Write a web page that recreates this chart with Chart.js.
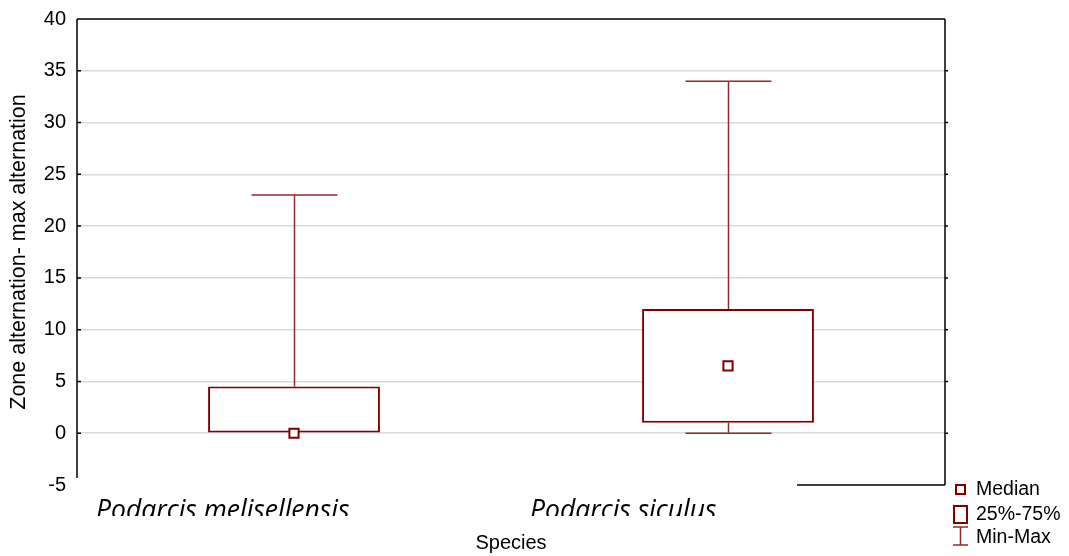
<!DOCTYPE html>
<html>
<head>
<meta charset="utf-8">
<script src="https://cdn.jsdelivr.net/npm/chart.js@4.4.1/dist/chart.umd.min.js"></script>
<style>
    html, body { margin: 0; padding: 0; background: #fff; }
    #grafica { display: block; }
</style>
</head>
<body>
<canvas id="grafica" width="1069" height="556"></canvas>
<script>
const species = ['Podarcis melisellensis', 'Podarcis siculus'];
const minValues = [0, 0];
const q25Values = [0, 1];
const medianValues = [0, 6.5];
const q75Values = [4.5, 12];
const maxValues = [23, 34];
const yTicks = [-5, 0, 5, 10, 15, 20, 25, 30, 35, 40];
const legendLabels = ['Median', '25%-75%', 'Min-Max'];

(function(){
    const red = '#800000';
    const whiskerRed = '#962a2a';
    const font = 'Arial, "Liberation Sans", sans-serif';

    // bigotes (min-max) debajo de las cajas
    const whiskers = {
        id: 'whiskers',
        beforeDatasetsDraw(chart) {
            const {ctx, scales: {x, y}} = chart;
            const boxes = chart.getDatasetMeta(1).data;
            ctx.save();
            ctx.strokeStyle = whiskerRed;
            ctx.lineWidth = 1.5;
            species.forEach((s, i) => {
                const cx = Math.round(x.getPixelForValue(i)) + 0.5;
                const half = boxes[i].width / 4;
                const yMax = y.getPixelForValue(maxValues[i]);
                const yMin = y.getPixelForValue(minValues[i]);
                ctx.beginPath();
                if (maxValues[i] > q75Values[i]) {
                    ctx.moveTo(cx, yMax); ctx.lineTo(cx, y.getPixelForValue(q75Values[i]));
                    ctx.moveTo(cx - half, yMax); ctx.lineTo(cx + half, yMax);
                }
                if (minValues[i] < q25Values[i]) {
                    ctx.moveTo(cx, yMin); ctx.lineTo(cx, y.getPixelForValue(q25Values[i]));
                    ctx.moveTo(cx - half, yMin); ctx.lineTo(cx + half, yMin);
                }
                ctx.stroke();
            });
            ctx.restore();
        }
    };

    // marco, etiquetas de especie, titulo X y leyenda
    const frame = {
        id: 'frame',
        afterDraw(chart) {
            const {ctx, chartArea: a, scales: {x, y}} = chart;
            ctx.save();
            ctx.strokeStyle = '#000';
            ctx.lineWidth = 1.5;
            ctx.beginPath();
            ctx.moveTo(a.left, a.top); ctx.lineTo(a.right, a.top);
            ctx.moveTo(a.left, a.top); ctx.lineTo(a.left, a.bottom - 7);
            ctx.moveTo(a.right, a.top); ctx.lineTo(a.right, a.bottom);
            ctx.moveTo(a.right - 148, a.bottom); ctx.lineTo(a.right, a.bottom);
            yTicks.forEach(v => {
                const py = y.getPixelForValue(v);
                if (v > yTicks[0] && v < yTicks[yTicks.length - 1]) {
                    ctx.moveTo(a.left, py); ctx.lineTo(a.left + 4, py);
                    ctx.moveTo(a.right, py); ctx.lineTo(a.right + 3, py);
                }
            });
            ctx.stroke();

            // nombres de especie, cortados abajo como en el original
            ctx.save();
            ctx.beginPath();
            ctx.rect(0, 0, chart.width, a.bottom + 31);
            ctx.clip();
            ctx.fillStyle = '#000';
            ctx.font = 'italic 26.5px "Open Sans", sans-serif';
            ctx.textAlign = 'left';
            ctx.textBaseline = 'alphabetic';
            species.forEach((s, i) => {
                ctx.fillText(s, x.getPixelForValue(i) - 198, a.bottom + 34);
            });
            ctx.restore();

            ctx.fillStyle = '#000';
            ctx.font = '20px ' + font;
            ctx.textAlign = 'center';
            ctx.textBaseline = 'middle';
            ctx.fillText('Species', (a.left + a.right) / 2, a.bottom + 58);

            // leyenda
            const lx = a.right + 15;
            ctx.strokeStyle = red;
            ctx.lineWidth = 2;
            ctx.strokeRect(lx - 4, a.bottom, 9, 9);
            ctx.strokeRect(lx - 6, a.bottom + 21, 13, 17);
            ctx.strokeStyle = whiskerRed;
            ctx.lineWidth = 1.5;
            ctx.beginPath();
            ctx.moveTo(lx - 7, a.bottom + 42); ctx.lineTo(lx + 8, a.bottom + 42);
            ctx.moveTo(lx + 0.5, a.bottom + 42); ctx.lineTo(lx + 0.5, a.bottom + 60);
            ctx.moveTo(lx - 7, a.bottom + 60); ctx.lineTo(lx + 8, a.bottom + 60);
            ctx.stroke();

            ctx.font = '19.5px ' + font;
            ctx.textAlign = 'left';
            ctx.fillText(legendLabels[0], lx + 16, a.bottom + 5);
            ctx.fillText(legendLabels[1], lx + 16, a.bottom + 30);
            ctx.fillText(legendLabels[2], lx + 16, a.bottom + 53);
            ctx.restore();
        }
    };

    const ctx = document.getElementById('grafica');

    new Chart(ctx, {
        type: 'bar',
        data: {
            labels: species,
            datasets: [{
                type: 'line',
                label: legendLabels[0],
                data: medianValues,
                showLine: false,
                pointStyle: 'rect',
                pointRadius: 6.5,
                pointBorderWidth: 2,
                pointBorderColor: red,
                pointBackgroundColor: '#fff'
            }, {
                label: legendLabels[1],
                data: q25Values.map((v, i) => [v, q75Values[i]]),
                backgroundColor: '#fff',
                borderColor: red,
                borderWidth: 2,
                borderSkipped: false,
                barPercentage: 0.396,
                categoryPercentage: 1
            }]
        },
        options: {
            responsive: false,
            animation: false,
            devicePixelRatio: 1,
            layout: {
                padding: { left: 0, right: 124, top: 19, bottom: 71 }
            },
            scales: {
                x: {
                    display: false
                },
                y: {
                    min: -5,
                    max: 40,
                    afterBuildTicks: scale => {
                        scale.ticks = yTicks.map(v => ({ value: v }));
                    },
                    afterFit: scale => {
                        scale.width = 77;
                        scale.paddingTop = 0;
                        scale.paddingBottom = 0;
                    },
                    border: { display: false },
                    grid: {
                        drawTicks: false,
                        color: c => (c.tick && (c.tick.value === -5 || c.tick.value === 40)) ? 'rgba(0,0,0,0)' : '#d9d9d9',
                        lineWidth: 1.5
                    },
                    ticks: {
                        padding: 11,
                        color: '#000',
                        font: { family: font, size: 20 }
                    },
                    title: {
                        display: true,
                        text: 'Zone alternation- max alternation',
                        color: '#000',
                        font: { family: font, size: 21.5 },
                        padding: { top: 6 }
                    }
                }
            },
            plugins: {
                legend: { display: false },
                tooltip: { enabled: false }
            }
        },
        plugins: [whiskers, frame]
    });
})();
</script>
</body>
</html>
